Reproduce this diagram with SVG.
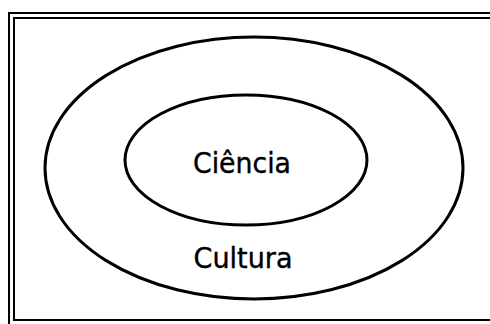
<svg xmlns="http://www.w3.org/2000/svg" width="490" height="324" viewBox="0 0 490 324">
<style>
.frame{fill:none;stroke:#000}
.ell{fill:none;stroke:#000;stroke-width:3}
.lbl{font-family:"DejaVu Sans",Tahoma,sans-serif;font-size:29px;fill:#000;stroke:#000;stroke-width:0.4;text-anchor:middle}
</style>
<rect width="490" height="324" fill="#fff"/>
<g id="frame">
<path class="frame" stroke-width="2" d="M9,324 V13 H490"/>
<path class="frame" stroke-width="2" d="M14,321 V18 H490"/>
<path class="frame" stroke-width="2" d="M14,320 H490"/>
</g>
<g id="cultura">
<ellipse class="ell" cx="254" cy="168" rx="209" ry="131"/>
<text class="lbl" x="243" y="268" textLength="99" lengthAdjust="spacingAndGlyphs">Cultura</text>
</g>
<g id="ciencia">
<ellipse class="ell" cx="246" cy="160" rx="121" ry="65"/>
<text class="lbl" x="242" y="173" textLength="98" lengthAdjust="spacingAndGlyphs">Ciência</text>
</g>
<g id="connectors"/>
</svg>
